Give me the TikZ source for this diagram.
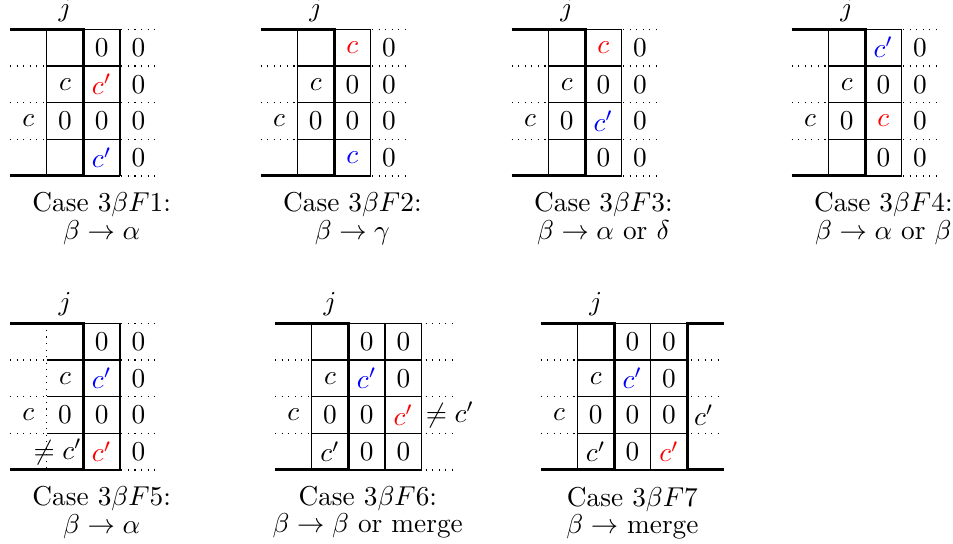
\documentclass[tikz,border=0pt]{standalone}
\begin{document}
\begin{tikzpicture}[x=0.3663pt,y=-0.3663pt,
  thk/.style={line width=1.1pt,line join=miter},
  thn/.style={line width=0.4pt},
  dotl/.style={dotted,line width=0.4pt},
  val/.style={inner sep=0pt},
  lab/.style={anchor=base,inner sep=0pt},
  captxt/.style={anchor=base,inner sep=0pt}]
\useasboundingbox (0,0) rectangle (953,543);

% ---------- Case 3bF1
\begin{scope}[shift={(10,29.3)},scale=36.67]
\foreach \r in {0,...,4} \draw[dotl] (0,\r)--(4,\r);
\foreach \r in {0,...,4} \draw[thn] (1,\r)--(3,\r);
\foreach \c in {1,3} \draw[thn] (\c,0)--(\c,4);
\draw[thk] (0,0)--(2,0)--(2,4)--(0,4);
\node[lab] (d1j) at (1.5,-0.35) {$j$};
\node[val] (d1a2) at (0.5,2.5) {$c$};
\node[val] (d1b1) at (1.5,1.5) {$c$};
\node[val] (d1b2) at (1.5,2.5) {$0$};
\node[val] (d1c0) at (2.5,0.5) {$0$};
\node[val,text=red] (d1c1) at (2.5,1.5) {$c'$};
\node[val] (d1c2) at (2.5,2.5) {$0$};
\node[val,text=blue] (d1c3) at (2.5,3.5) {$c'$};
\foreach \r in {0,...,3} \node[val] (d1d\r) at (3.5,\r+0.5) {$0$};
\node[captxt] (d1t1) at (2.5,4.96) {Case $3\beta F1$:};
\node[captxt] (d1t2) at (2.5,5.72) {$\beta\to\alpha$};
\end{scope}

% ---------- Case 3bF2
\begin{scope}[shift={(260.7,29.3)},scale=36.67]
\foreach \r in {0,...,4} \draw[dotl] (0,\r)--(4,\r);
\foreach \r in {0,...,4} \draw[thn] (1,\r)--(3,\r);
\foreach \c in {1,3} \draw[thn] (\c,0)--(\c,4);
\draw[thk] (0,0)--(2,0)--(2,4)--(0,4);
\node[lab] (d2j) at (1.5,-0.35) {$j$};
\node[val] (d2a2) at (0.5,2.5) {$c$};
\node[val] (d2b1) at (1.5,1.5) {$c$};
\node[val] (d2b2) at (1.5,2.5) {$0$};
\node[val,text=red] (d2c0) at (2.5,0.5) {$c$};
\node[val] (d2c1) at (2.5,1.5) {$0$};
\node[val] (d2c2) at (2.5,2.5) {$0$};
\node[val,text=blue] (d2c3) at (2.5,3.5) {$c$};
\foreach \r in {0,...,3} \node[val] (d2d\r) at (3.5,\r+0.5) {$0$};
\node[captxt] (d2t1) at (2.5,4.96) {Case $3\beta F2$:};
\node[captxt] (d2t2) at (2.5,5.72) {$\beta\to\gamma$};
\end{scope}

% ---------- Case 3bF3
\begin{scope}[shift={(511.7,29.3)},scale=36.67]
\foreach \r in {0,...,4} \draw[dotl] (0,\r)--(4,\r);
\foreach \r in {0,...,4} \draw[thn] (1,\r)--(3,\r);
\foreach \c in {1,3} \draw[thn] (\c,0)--(\c,4);
\draw[thk] (0,0)--(2,0)--(2,4)--(0,4);
\node[lab] (d3j) at (1.5,-0.35) {$j$};
\node[val] (d3a2) at (0.5,2.5) {$c$};
\node[val] (d3b1) at (1.5,1.5) {$c$};
\node[val] (d3b2) at (1.5,2.5) {$0$};
\node[val,text=red] (d3c0) at (2.5,0.5) {$c$};
\node[val] (d3c1) at (2.5,1.5) {$0$};
\node[val,text=blue] (d3c2) at (2.5,2.5) {$c'$};
\node[val] (d3c3) at (2.5,3.5) {$0$};
\foreach \r in {0,...,3} \node[val] (d3d\r) at (3.5,\r+0.5) {$0$};
\node[captxt] (d3t1) at (2.5,4.96) {Case $3\beta F3$:};
\node[captxt] (d3t2) at (2.5,5.72) {$\beta\to\alpha$ or $\delta$};
\end{scope}

% ---------- Case 3bF4
\begin{scope}[shift={(791.7,29.3)},scale=36.67]
\foreach \r in {0,...,4} \draw[dotl] (0,\r)--(4,\r);
\foreach \r in {0,...,4} \draw[thn] (1,\r)--(3,\r);
\foreach \c in {1,3} \draw[thn] (\c,0)--(\c,4);
\draw[thk] (0,0)--(2,0)--(2,4)--(0,4);
\node[lab] (d4j) at (1.5,-0.35) {$j$};
\node[val] (d4a2) at (0.5,2.5) {$c$};
\node[val] (d4b1) at (1.5,1.5) {$c$};
\node[val] (d4b2) at (1.5,2.5) {$0$};
\node[val,text=blue] (d4c0) at (2.5,0.5) {$c'$};
\node[val] (d4c1) at (2.5,1.5) {$0$};
\node[val,text=red] (d4c2) at (2.5,2.5) {$c$};
\node[val] (d4c3) at (2.5,3.5) {$0$};
\foreach \r in {0,...,3} \node[val] (d4d\r) at (3.5,\r+0.5) {$0$};
\node[captxt] (d4t1) at (2.5,4.96) {Case $3\beta F4$:};
\node[captxt] (d4t2) at (2.5,5.72) {$\beta\to\alpha$ or $\beta$};
\end{scope}

% ---------- Case 3bF5
\begin{scope}[shift={(10,323.3)},scale=36.67]
\foreach \r in {0,...,4} \draw[dotl] (0,\r)--(4,\r);
\foreach \r in {1,2,3} \draw[thn] (1,\r)--(3,\r);
\draw[thn] (2,0) rectangle (3,4);
\draw[dotl] (1,0)--(1,4);
\draw[thk] (0,0)--(2,0)--(2,4)--(0,4);
\node[lab] (d5j) at (1.5,-0.35) {$j$};
\node[val] (d5a2) at (0.5,2.5) {$c$};
\node[val] (d5b1) at (1.5,1.5) {$c$};
\node[val] (d5b2) at (1.5,2.5) {$0$};
\node[val] (d5b3) at (1.3,3.5) {$\neq c'$};
\node[val] (d5c0) at (2.5,0.5) {$0$};
\node[val,text=blue] (d5c1) at (2.5,1.5) {$c'$};
\node[val] (d5c2) at (2.5,2.5) {$0$};
\node[val,text=red] (d5c3) at (2.5,3.5) {$c'$};
\foreach \r in {0,...,3} \node[val] (d5d\r) at (3.5,\r+0.5) {$0$};
\node[captxt] (d5t1) at (2.5,4.98) {Case $3\beta F5$:};
\node[captxt] (d5t2) at (2.5,5.74) {$\beta\to\alpha$};
\end{scope}

% ---------- Case 3bF6
\begin{scope}[shift={(275,323.3)},scale=36.67]
\foreach \r in {0,...,4} \draw[dotl] (0,\r)--(5,\r);
\foreach \r in {0,...,4} \draw[thn] (1,\r)--(4,\r);
\foreach \c in {1,3,4} \draw[thn] (\c,0)--(\c,4);
\draw[thk] (0,0)--(2,0)--(2,4)--(0,4);
\node[lab] (d6j) at (1.5,-0.35) {$j$};
\node[val] (d6a2) at (0.5,2.5) {$c$};
\node[val] (d6b1) at (1.5,1.5) {$c$};
\node[val] (d6b2) at (1.5,2.5) {$0$};
\node[val] (d6b3) at (1.5,3.5) {$c'$};
\node[val] (d6c0) at (2.5,0.5) {$0$};
\node[val,text=blue] (d6c1) at (2.5,1.5) {$c'$};
\node[val] (d6c2) at (2.5,2.5) {$0$};
\node[val] (d6c3) at (2.5,3.5) {$0$};
\node[val] (d6d0) at (3.5,0.5) {$0$};
\node[val] (d6d1) at (3.5,1.5) {$0$};
\node[val,text=red] (d6d2) at (3.5,2.5) {$c'$};
\node[val] (d6d3) at (3.5,3.5) {$0$};
\node[val] (d6e2) at (4.77,2.5) {$\neq c'$};
\node[captxt] (d6t1) at (2.53,4.96) {Case $3\beta F6$:};
\node[captxt] (d6t2) at (2.53,5.70) {$\beta\to\beta$ or merge};
\end{scope}

% ---------- Case 3bF7
\begin{scope}[shift={(540.7,323.3)},scale=36.67]
\foreach \r in {0,...,4} \draw[dotl] (0,\r)--(5,\r);
\foreach \r in {0,...,4} \draw[thn] (1,\r)--(4,\r);
\foreach \c in {1,3} \draw[thn] (\c,0)--(\c,4);
\draw[thk] (0,0)--(2,0)--(2,4)--(0,4);
\draw[thk] (5,0)--(4,0)--(4,4)--(5,4);
\node[lab] (d7j) at (1.5,-0.35) {$j$};
\node[val] (d7a2) at (0.5,2.5) {$c$};
\node[val] (d7b1) at (1.5,1.5) {$c$};
\node[val] (d7b2) at (1.5,2.5) {$0$};
\node[val] (d7b3) at (1.5,3.5) {$c'$};
\node[val] (d7c0) at (2.5,0.5) {$0$};
\node[val,text=blue] (d7c1) at (2.5,1.5) {$c'$};
\node[val] (d7c2) at (2.5,2.5) {$0$};
\node[val] (d7c3) at (2.5,3.5) {$0$};
\node[val] (d7d0) at (3.5,0.5) {$0$};
\node[val] (d7d1) at (3.5,1.5) {$0$};
\node[val] (d7d2) at (3.5,2.5) {$0$};
\node[val,text=red] (d7d3) at (3.5,3.5) {$c'$};
\node[val] (d7e2) at (4.45,2.5) {$c'$};
\node[captxt] (d7t1) at (2.5,5.0) {Case $3\beta F7$};
\node[captxt] (d7t2) at (2.5,5.74) {$\beta\to$ merge};
\end{scope}
\end{tikzpicture}
\end{document}
